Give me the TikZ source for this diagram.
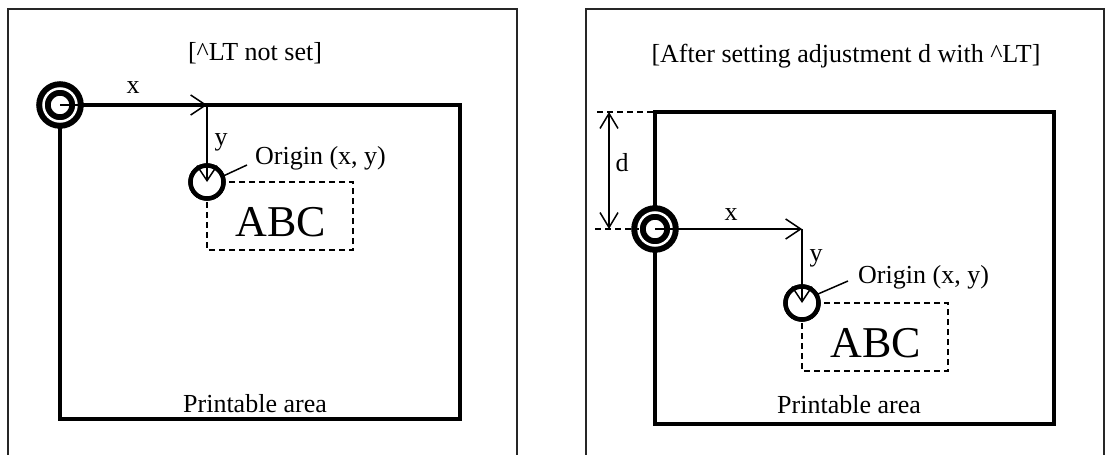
\documentclass[tikz,border=0pt]{standalone}
\usepackage{fontspec}
\setmainfont{Liberation Serif}
\usetikzlibrary{arrows.meta}
\tikzset{
  frame/.style={draw=black!85, line width=1.5pt},
  parea/.style={draw, line width=4pt, rectangle, inner sep=0pt, outer sep=0pt, miter limit=10},
  axis/.style={line width=1.5pt, -{Straight Barb[length=15pt,width=20pt,line width=1.5pt]}},
  dimarrow/.style={line width=1.5pt, {Straight Barb[length=15pt,width=18pt,line width=1.5pt]}-{Straight Barb[length=15pt,width=18pt,line width=1.5pt]}},
  dbox/.style={line width=1.5pt, dash pattern=on 6pt off 4pt},
  dimline/.style={line width=1.5pt, dash pattern=on 6pt off 4pt},
  dring/.style={circle, draw, fill=white, line width=6pt, double=white, double distance=2.5pt, minimum size=33pt, inner sep=0pt, outer sep=0pt},
  sring/.style={circle, draw, fill=white, line width=4.5pt, minimum size=33pt, inner sep=0pt, outer sep=0pt},
  lbl/.style={font=\fontsize{26}{30}\selectfont, inner sep=0pt},
  big/.style={font=\fontsize{44}{50}\selectfont, inner sep=0pt},
  leader/.style={line width=1.5pt}
}
\begin{document}
\begin{tikzpicture}[x=1pt, y=-1pt]
\useasboundingbox (0,0) rectangle (1106,455);
% ---------- left panel ----------
\draw[frame] (8,470) -- (8,9) -- (517,9) -- (517,470);
\node[lbl] (t1) at (255,53) {[\textasciicircum LT not set]};
\node[parea, minimum width=400pt, minimum height=314pt] (pa1) at (260,262) {};
\node[lbl] (pl1) at (255,404) {Printable area};
\coordinate (xe1) at (207,105);
\coordinate (bx1) at (353,250);
\node[sring] (c1) at (207,182) {};
\draw[dbox] (c1.center) rectangle (bx1);
\node[sring] (c1b) at (207,182) {};
\node[big] (abc1) at (281,222) {ABC};
\node[dring] (o1) at (60,105) {};
\draw[axis] (o1.center) -- (xe1);
\draw[axis] (xe1) -- (c1b.center);
\node[lbl] (xl1) at (133,88) {x};
\node[lbl] (yl1) at (221,142) {y};
\coordinate (ld1) at (247,165);
\draw[leader] (c1b.20) -- (ld1);
\node[lbl, anchor=west] (or1) at (255,158) {Origin (x, y)};
% ---------- right panel ----------
\draw[frame] (586,470) -- (586,9) -- (1104,9) -- (1104,470);
\node[lbl] (t2) at (846,56) {[After setting adjustment d with \textasciicircum LT]};
\node[parea, minimum width=399pt, minimum height=312pt] (pa2) at (854.5,268) {};
\node[lbl] (pl2) at (849,405) {Printable area};
\coordinate (xe2) at (802,229);
\coordinate (bx2) at (948,371);
\node[sring] (c2) at (802,303) {};
\draw[dbox] (c2.center) rectangle (bx2);
\node[sring] (c2b) at (802,303) {};
\node[big] (abc2) at (876,343) {ABC};
\node[dring] (o2) at (655,229) {};
\draw[axis] (o2.center) -- (xe2);
\draw[axis] (xe2) -- (c2b.center);
\node[lbl] (xl2) at (731,215) {x};
\node[lbl] (yl2) at (816,258) {y};
\coordinate (ld2) at (848,281);
\draw[leader] (c2b.30) -- (ld2);
\node[lbl, anchor=west] (or2) at (858,277) {Origin (x, y)};
% dimension d
\coordinate (dl1) at (597,112);
\coordinate (dl2) at (595,229);
\coordinate (da1) at (609,112);
\coordinate (da2) at (609,229);
\draw[dimline] (dl1) -- (pa2.north west);
\draw[dimline] (dl2) -- (o2.west);
\draw[dimarrow] (da1) -- (da2);
\node[lbl] (dlab) at (622,163) {d};
\end{tikzpicture}
\end{document}
